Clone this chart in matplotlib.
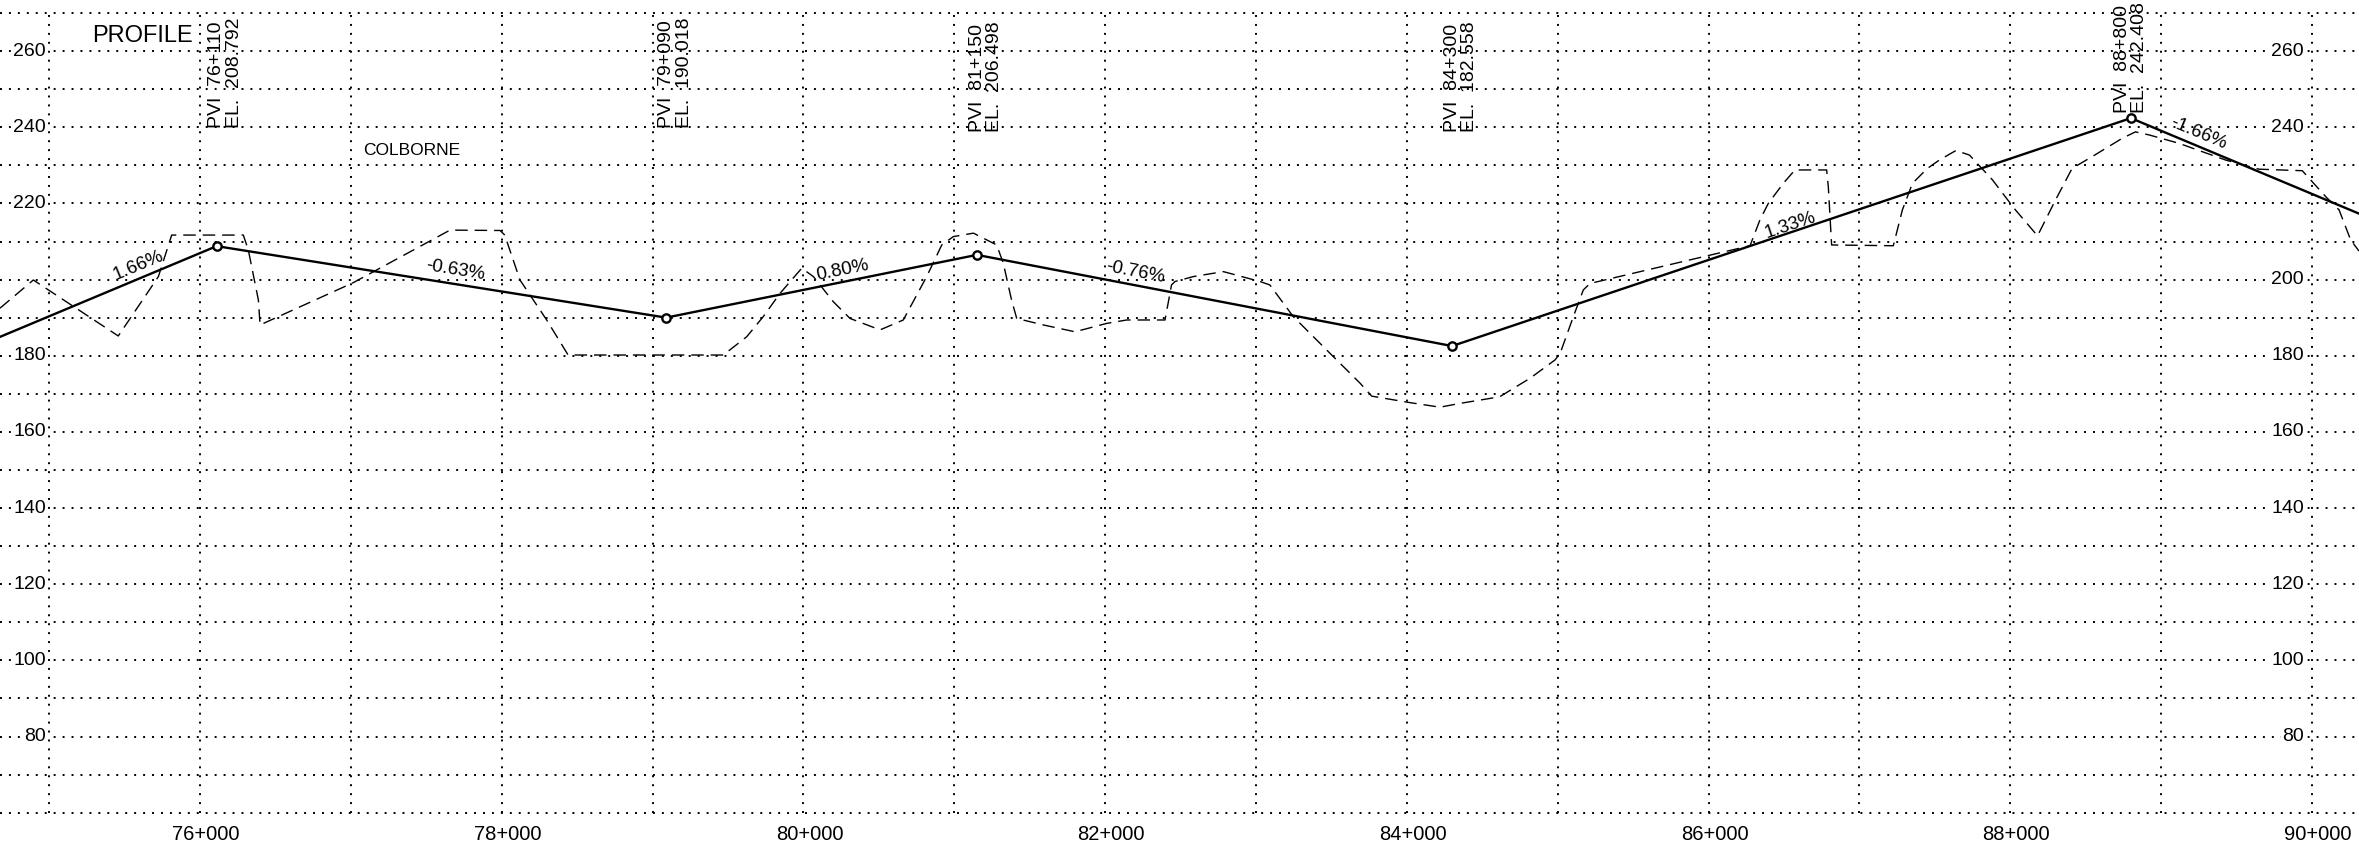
"""
Road profile sheet: design grade line over the existing ground.
"""

import numpy as np
import matplotlib
matplotlib.use('Agg')
import matplotlib.pyplot as plt
from matplotlib.transforms import blended_transform_factory

plt.rcParams['font.family'] = ['Liberation Sans', 'DejaVu Sans']

# PVIs of the design grade line (station in km, elevation in m)
pvi_station = [76.110, 79.090, 81.150, 84.300, 88.800]
pvi_elev = [208.792, 190.018, 206.498, 182.558, 242.408]
pvi_name = ['76+110', '79+090', '81+150', '84+300', '88+800']
pvi_label_x = [76.17, 79.15, 81.21, 84.36, 88.80]
pvi_label_y = [239.7, 239.7, 238.8, 238.8, 243.7]

# grade line runs off both edges of the sheet
grade_start = (74.67, 184.9)
grade_end = (90.32, 217.2)

grade_pct = [1.66, -0.63, 0.80, -0.76, 1.33, -1.66]
grade_label_x = [75.59, 77.69, 80.26, 82.20, 86.54, 89.25]
grade_label_y = [203.6, 202.4, 202.4, 202.0, 214.2, 238.3]

# existing ground (dashed)
ground_km = [74.674, 74.895, 75.458, 75.724, 75.812, 76.287, 76.32, 76.387, 76.398,
             77.016, 77.657, 77.989, 78.02, 78.121, 78.298, 78.44, 79.469, 79.624,
             79.734, 79.845, 79.989, 80.066, 80.198, 80.309, 80.508, 80.662, 80.817,
             80.917, 80.994, 81.127, 81.281, 81.325, 81.38, 81.414, 81.59, 81.80,
             82.01, 82.143, 82.397, 82.44, 82.463, 82.585, 82.784, 83.027, 83.092,
             83.247, 83.469, 83.69, 83.767, 84.02, 84.22, 84.353, 84.551, 84.618,
             84.817, 84.982, 85.016, 85.104, 85.17, 85.215, 86.275, 86.341, 86.396,
             86.496, 86.573, 86.783, 86.794, 86.816, 87.225, 87.285, 87.352, 87.451,
             87.53, 87.64, 87.73, 87.882, 88.026, 88.181, 88.30, 88.41, 88.543,
             88.742, 88.83, 88.92, 89.118, 89.428, 89.649, 89.936, 90.091, 90.18,
             90.257, 90.312]
ground_elev = [192.5, 199.9, 185.2, 200.8, 211.7, 211.7, 207.8, 194.6, 188.1,
               199.2, 213.0, 212.9, 211.7, 199.9, 189.4, 180.2, 180.2, 185.0,
               190.3, 196.4, 203.0, 200.8, 194.2, 189.8, 186.8, 189.4, 200.8,
               209.1, 211.3, 212.2, 209.1, 204.3, 194.6, 189.8, 188.1, 186.3,
               188.5, 189.4, 189.4, 198.6, 199.5, 200.8, 202.1, 199.5, 198.6,
               190.3, 181.5, 172.8, 169.4, 167.7, 166.5, 167.5, 168.8, 169.3,
               174.1, 178.9, 180.6, 190.3, 197.3, 199.0, 208.9, 215.7, 220.0,
               225.3, 228.8, 228.8, 224.4, 209.1, 208.9, 218.3, 225.3, 229.2,
               231.4, 233.9, 232.7, 226.2, 218.7, 211.5, 220.9, 229.2, 232.3,
               237.1, 238.8, 238.0, 235.8, 231.4, 229.0, 228.6, 221.8, 218.3,
               210.4, 207.5]

station_ticks = [76, 78, 80, 82, 84, 86, 88, 90]
elev_left = [260, 240, 220, 180, 160, 140, 120, 100, 80]
elev_right = [260, 240, 200, 180, 160, 140, 120, 100, 80]
grid_km = list(range(75, 91))
grid_elev = list(range(60, 271, 10))


def main():
    fig = plt.figure(figsize=(23.59, 8.47), dpi=100)
    ax = fig.add_axes([0, 0, 1, 1])
    ax.set_xlim(74.674, 90.312)
    ax.set_ylim(51.0, 273.43)
    ax.axis('off')

    # dotted sheet grid
    dot = dict(color='black', linewidth=1.4, linestyles=(0, (1, 3.6)))
    ax.hlines(grid_elev, 74.674, 90.312, **dot)
    ax.vlines(grid_km, 60, 270, **dot)

    # ground and grade line
    ax.plot(ground_km, ground_elev, color='black', linewidth=1.0,
            dashes=(9, 5))
    gx = [grade_start[0]] + pvi_station + [grade_end[0]]
    gy = [grade_start[1]] + pvi_elev + [grade_end[1]]
    ax.plot(gx, gy, color='black', linewidth=1.7, zorder=4)
    ax.plot(pvi_station, pvi_elev, 'o', ms=6, mfc='white', mec='black',
            mew=1.7, zorder=5)

    # PVI labels
    for x, y, name, el in zip(pvi_label_x, pvi_label_y, pvi_name, pvi_elev):
        ax.text(x, y, f'PVI  {name}\nEL.  {el:.3f}', rotation=90,
                ha='center', va='bottom', multialignment='left',
                fontsize=14, linespacing=1.05)

    # grade percentages, rotated along the line
    for x, y, g in zip(grade_label_x, grade_label_y, grade_pct):
        ang = np.degrees(np.arctan(g * 10))
        rot = ax.transData.transform_angles(np.array([ang]),
                                            np.array([[x, y]]))[0]
        ax.text(x, y, f'{g:.2f}%', rotation=rot, rotation_mode='anchor',
                ha='center', va='center', fontsize=13.5)

    # elevation labels on both sides
    trans = blended_transform_factory(ax.transAxes, ax.transData)
    box = dict(facecolor='white', edgecolor='none', pad=1)
    for e in elev_left:
        ax.text(46 / 2359, e, str(e), transform=trans, ha='right',
                va='center', fontsize=14, bbox=box)
    for e in elev_right:
        ax.text(2304 / 2359, e, str(e), transform=trans, ha='right',
                va='center', fontsize=14, bbox=box)

    # station labels
    for s in station_ticks:
        ax.text(s + 0.04, 54.4, f'{s}+000', ha='center', va='center',
                fontsize=14.5)

    ax.text(75.62, 264.0, 'PROFILE', ha='center', va='center',
            fontsize=17)
    ax.text(77.405, 234.0, 'COLBORNE', ha='center', va='center',
            fontsize=12.5)

    fig.savefig('out.png', dpi=100)


if __name__ == '__main__':
    main()
